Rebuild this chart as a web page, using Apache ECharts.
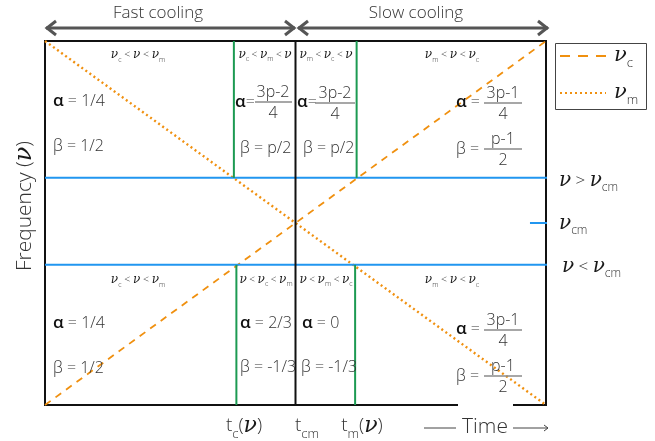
<!DOCTYPE html>
<html>
<head>
<meta charset="utf-8">
<script src="https://cdn.jsdelivr.net/npm/echarts@6/dist/echarts.min.js"></script>
<style>
  html, body { margin: 0; padding: 0; background: #fff; }
  #chart { width: 655px; height: 441px; }
</style>
</head>
<body>
<div id="chart"></div>
<script>
// Schematic units: time 0..100 left to right, frequency 0..100 bottom to top
const timeRange = [0, 100];
const freqRange = [0, 100];
const tcm = 50;                       // t_cm, fast -> slow cooling transition
const nuCm = 50;                      // ν_cm level
const bandEdges = [62.4, 38.5];       // ν > ν_cm band bottom, ν < ν_cm band top
const tcTimes = [37.7, 38.2];         // t_c(ν) in upper band, lower band
const tmTimes = [62.2, 61.9];         // t_m(ν) in upper band, lower band
const nuCTrack = [[0, 0], [100, 100]];   // ν_c rises with time
const nuMTrack = [[0, 100], [100, 0]];   // ν_m falls with time
const nuCmTick = [96.8, 101.4];
const coolingRegimes = ['Fast cooling', 'Slow cooling'];
const timeLabels = ['t_c(ν)', 't_cm', 't_m(ν)'];

const ORANGE = '#f0900f';
const GREEN = '#1c9a52';
const BLUE = '#2196f0';
const INK = '#333';
const SANS = "'Open Sans', 'Noto Sans', sans-serif";
const SERIF = "'DejaVu Serif', serif";

const chart = echarts.init(document.getElementById('chart'), null, { renderer: 'canvas' });

function seg(name, pts, color, width, type, clip) {
  return {
    name, type: 'line', data: pts, symbol: 'none', silent: true, animation: false,
    clip: clip !== false,
    lineStyle: { color, width, type: type || 'solid' }, z: 3
  };
}

const series = [
  seg('ν_c', nuCTrack, ORANGE, 1.8, [7, 6]),
  seg('ν_m', nuMTrack, ORANGE, 2.4, [2, 3]),
  seg('upper band', [[timeRange[0], bandEdges[0]], [timeRange[1] + 0.3, bandEdges[0]]], BLUE, 2, 'solid', false),
  seg('lower band', [[timeRange[0], bandEdges[1]], [timeRange[1] + 0.3, bandEdges[1]]], BLUE, 2, 'solid', false),
  seg('ν_cm tick', [[nuCmTick[0], nuCm], [nuCmTick[1], nuCm]], BLUE, 2, 'solid', false),
  seg('t_cm', [[tcm, freqRange[0]], [tcm, freqRange[1]]], '#111', 2),
  seg('t_c upper', [[tcTimes[0], bandEdges[0]], [tcTimes[0], freqRange[1]]], GREEN, 2),
  seg('t_m upper', [[tmTimes[0], bandEdges[0]], [tmTimes[0], freqRange[1]]], GREEN, 2),
  seg('t_c lower', [[tcTimes[1], freqRange[0]], [tcTimes[1], bandEdges[1]]], GREEN, 2),
  seg('t_m lower', [[tmTimes[1], freqRange[0]], [tmTimes[1], bandEdges[1]]], GREEN, 2)
];

chart.setOption({
  animation: false,
  backgroundColor: '#fff',
  grid: { left: 45, right: 109, top: 41, bottom: 36, show: true, borderColor: '#111', borderWidth: 2, backgroundColor: 'transparent' },
  xAxis: { type: 'value', min: timeRange[0], max: timeRange[1], show: false },
  yAxis: { type: 'value', min: freqRange[0], max: freqRange[1], show: false },
  series
});

// ---- rich text helpers ----
function richFor(size) {
  const L = Math.round(size * 1.5);
  const d = Math.max(1, Math.round(size * 0.12));
  return {
    t: { fontFamily: SANS, fontSize: size, fontWeight: 300, fill: INK, lineHeight: L, verticalAlign: 'middle' },
    a: { fontFamily: SANS, fontSize: size + 1, fill: '#111', fontWeight: 600, lineHeight: L, verticalAlign: 'middle' },
    n: { fontFamily: SERIF, fontStyle: 'italic', fontSize: Math.round(size * 1.15), fill: '#1a1a1a', lineHeight: L, verticalAlign: 'middle' },
    s: { fontFamily: SANS, fontSize: Math.round(size * 0.7), fontWeight: 300, fill: INK, lineHeight: L - 2 * d, verticalAlign: 'bottom' }
  };
}
function rt(str) {
  let out = '', buf = '';
  const flush = () => { if (buf) { out += '{t|' + buf + '}'; buf = ''; } };
  for (let i = 0; i < str.length; i++) {
    const ch = str[i];
    if (ch === 'ν') { flush(); out += '{n|ν}'; }
    else if (ch === 'α') { flush(); out += '{a|α}'; }
    else if (ch === '_') {
      flush();
      let j = i + 1, s = '';
      while (j < str.length && /[a-z]/.test(str[j])) s += str[j++];
      out += '{s|' + s + '}';
      i = j - 1;
    } else buf += ch;
  }
  flush();
  return out;
}
function txt(x, y, str, size, align, extra) {
  return Object.assign({
    type: 'text', x, y, z: 60, silent: true,
    style: { text: rt(str), rich: richFor(size), align: align || 'left', verticalAlign: 'middle', fontFamily: SANS, fontSize: size, fill: INK }
  }, extra || {});
}
function hline(x1, x2, y, color, width, dash, z) {
  return { type: 'line', z: z || 60, silent: true, shape: { x1, y1: y, x2, y2: y }, style: { stroke: color, lineWidth: width, lineDash: dash || null } };
}
function frac(cx, x1, x2, yLine, num, den, size) {
  return [
    txt(cx, yLine - 10, num, size, 'center'),
    hline(x1, x2, yLine, '#8a8a8a', 1.6),
    txt(cx, yLine + 11, den, size, 'center')
  ];
}

const g = [];
// cooling regime arrows along the top
function dblArrow(x1, x2, y) {
  g.push({ type: 'line', z: 60, shape: { x1, y1: y, x2, y2: y }, style: { stroke: '#555', lineWidth: 3 } });
  g.push({ type: 'polyline', z: 60, shape: { points: [[x1 + 10, y - 7], [x1 + 1, y], [x1 + 10, y + 7]] }, style: { stroke: '#555', lineWidth: 3, fill: null } });
  g.push({ type: 'polyline', z: 60, shape: { points: [[x2 - 10, y - 7], [x2 - 1, y], [x2 - 10, y + 7]] }, style: { stroke: '#555', lineWidth: 3, fill: null } });
}
dblArrow(46, 295, 28);
dblArrow(298, 548, 28);
g.push(txt(158, 13, coolingRegimes[0], 17, 'center'));
g.push(txt(416, 13, coolingRegimes[1], 17, 'center'));

// upper band (ν > ν_cm)
g.push(txt(138, 55, 'ν_c < ν < ν_m', 10.5, 'center'));
g.push(txt(53, 101, 'α = 1/4', 16));
g.push(txt(53, 146, 'β = 1/2', 16));

g.push(txt(265, 55, 'ν_c < ν_m < ν', 10, 'center'));
g.push(txt(235, 102, 'α=', 16));
g.push(...frac(273, 255, 292, 102, '3p-2', '4', 16));
g.push(txt(240, 148, 'β = p/2', 16));

g.push(txt(326, 55, 'ν_m < ν_c < ν', 10, 'center'));
g.push(txt(297, 102, 'α=', 16));
g.push(...frac(335, 315, 355, 103, '3p-2', '4', 16));
g.push(txt(303, 148, 'β = p/2', 16));

g.push(txt(452, 55, 'ν_m < ν < ν_c', 10.5, 'center'));
g.push(txt(456, 102, 'α = ', 16));
g.push(...frac(503, 484, 522, 103, '3p-1', '4', 16));
g.push(txt(456, 149, 'β = ', 16));
g.push(...frac(503, 484, 522, 149, 'p-1', '2', 16));

// lower band (ν < ν_cm)
g.push(txt(138, 280, 'ν_c < ν < ν_m', 10.5, 'center'));
g.push(txt(53, 323, 'α = 1/4', 16));
g.push(txt(53, 368, 'β = 1/2', 16));

g.push(txt(266, 280, 'ν < ν_c < ν_m', 10, 'center'));
g.push(txt(240, 323, 'α = 2/3', 16));
g.push(txt(240, 367, 'β = -1/3', 16));

g.push(txt(326, 280, 'ν < ν_m < ν_c', 10, 'center'));
g.push(txt(302, 323, 'α = 0', 16));
g.push(txt(301, 367, 'β = -1/3', 16));

g.push(txt(452, 280, 'ν_m < ν < ν_c', 10.5, 'center'));
g.push(txt(456, 329, 'α = ', 16));
g.push(...frac(503, 484, 522, 330, '3p-1', '4', 16));
g.push(txt(456, 376, 'β = ', 16));
g.push(...frac(503, 484, 522, 376, 'p-1', '2', 16));

// band labels on the right
g.push(txt(559, 181, 'ν > ν_cm', 17));
g.push(txt(559, 224, 'ν_cm', 17));
g.push(txt(562, 267, 'ν < ν_cm', 17));

// legend box
g.push({ type: 'rect', z: 55, shape: { x: 555.5, y: 43.5, width: 91, height: 66 }, style: { fill: '#fff', stroke: '#444', lineWidth: 1 } });
g.push(hline(560, 606, 56, ORANGE, 2, [10, 8]));
g.push(hline(560, 606, 93, ORANGE, 2.2, [2, 3]));
g.push(txt(614, 56, 'ν_c', 18));
g.push(txt(614, 93, 'ν_m', 18));

// axis titles
g.push(txt(25, 206, 'Frequency (ν)', 21, 'center', { rotation: Math.PI / 2 }));
g.push(txt(244, 426, timeLabels[0], 19, 'center'));
g.push(txt(307, 426, timeLabels[1], 19, 'center'));
g.push(txt(362, 426, timeLabels[2], 19, 'center'));
g.push({ type: 'rect', z: 58, shape: { x: 458, y: 402, width: 55, height: 6 }, style: { fill: '#fff' } });
g.push(hline(424, 456, 428, '#444', 1));
g.push(txt(485, 427, 'Time', 21, 'center'));
g.push(hline(513, 548, 428, '#444', 1));
g.push({ type: 'polyline', z: 60, shape: { points: [[544, 425], [548, 428], [544, 431]] }, style: { stroke: '#444', lineWidth: 1, fill: null } });

chart.setOption({ graphic: { elements: g } });
</script>
</body>
</html>
